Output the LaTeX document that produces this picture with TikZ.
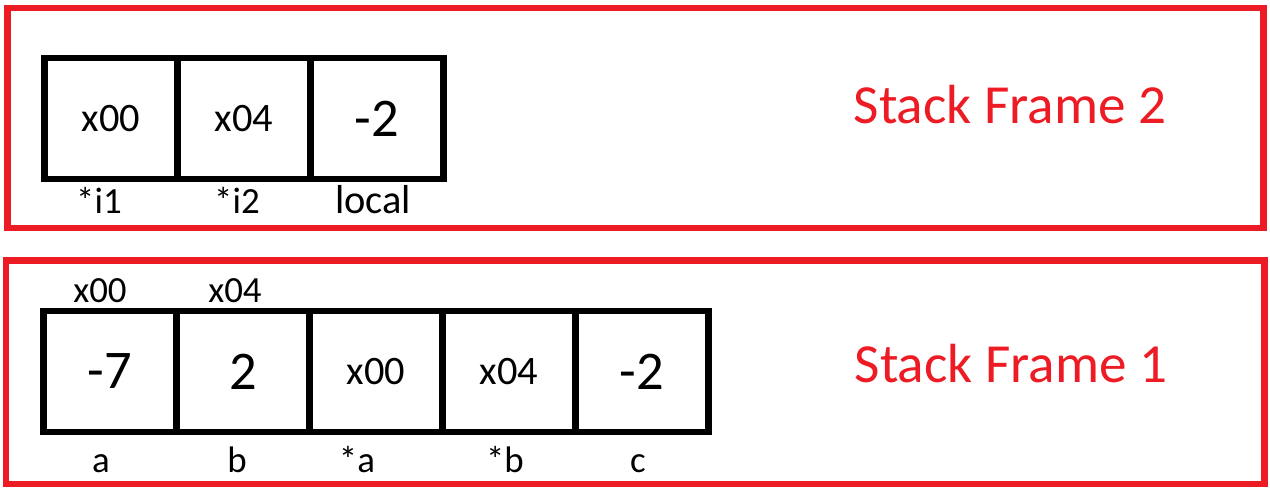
\documentclass[tikz,border=0pt]{standalone}
\usepackage{fontspec}
\setmainfont{Carlito}
\usetikzlibrary{positioning}
\definecolor{framered}{HTML}{ED1C24}
\tikzset{
	cell/.style={draw, line width=1.9pt, minimum width=1.33cm, minimum height=1.21cm,
		inner sep=0pt, outer sep=0pt, font=\fontsize{11.5}{13}\selectfont},
	bignum/.style={font=\fontsize{15.5}{18}\selectfont},
	lbl/.style={anchor=base, inner sep=0pt, font=\fontsize{10.5}{12}\selectfont},
	framebox/.style={draw=framered, line width=1.85pt},
	frametitle/.style={anchor=base, inner sep=0pt, text=framered, font=\fontsize{15.7}{19}\selectfont},
}

\begin{document}
\begin{tikzpicture}
	\useasboundingbox (0,0) rectangle (12.7,4.9);
	% stack frame 2
	\draw[framebox] (0.075,2.62) rectangle (12.635,4.82);
	\node[cell] (i1) at (1.11,3.715) {x00};
	\node[cell, right=0pt of i1] (i2) {x04};
	\node[cell, bignum, right=0pt of i2] (local) {-2};
	\node[lbl] (li1) at (0.99,2.77) {*i1};
	\node[lbl] (li2) at (2.37,2.77) {*i2};
	\node[lbl, font=\fontsize{11.5}{13}\selectfont] (llocal) at (3.73,2.77) {local};
	\node[frametitle] (sf2) at (10.10,3.67) {Stack Frame 2};
	% stack frame 1
	\draw[framebox] (0.06,0.06) rectangle (12.645,2.295);
	\node[cell, bignum] (a) at (1.10,1.185) {-7};
	\node[cell, bignum, right=0pt of a] (b) {2};
	\node[cell, right=0pt of b] (pa) {x00};
	\node[cell, right=0pt of pa] (pb) {x04};
	\node[cell, bignum, right=0pt of pb] (c) {-2};
	\node[lbl] (ada) at (1.00,1.88) {x00};
	\node[lbl] (adb) at (2.35,1.88) {x04};
	\node[lbl] (la) at (1.01,0.18) {a};
	\node[lbl] (lb) at (2.37,0.18) {b};
	\node[lbl] (lpa) at (3.57,0.18) {*a};
	\node[lbl] (lpb) at (5.05,0.18) {*b};
	\node[lbl] (lc) at (6.38,0.18) {c};
	\node[frametitle] (sf1) at (10.11,1.08) {Stack Frame 1};
\end{tikzpicture}
\end{document}
